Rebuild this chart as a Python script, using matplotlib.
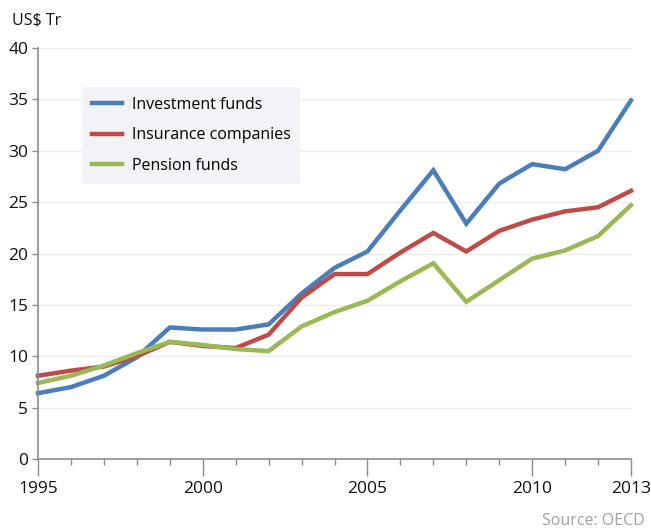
import matplotlib
matplotlib.use("Agg")
import matplotlib.pyplot as plt

plt.rcParams['font.family'] = ['Open Sans', 'DejaVu Sans']

years = list(range(1995, 2014))
investment_funds = [6.4, 7.0, 8.1, 9.9, 12.8, 12.6, 12.6, 13.1, 16.1, 18.6, 20.2, 24.2, 28.1, 22.9, 26.8, 28.7, 28.2, 30.0, 34.9]
insurance_companies = [8.1, 8.6, 9.0, 10.0, 11.4, 11.0, 10.8, 12.1, 15.7, 18.0, 18.0, 20.1, 22.0, 20.2, 22.2, 23.3, 24.1, 24.5, 26.1]
pension_funds = [7.4, 8.1, 9.1, 10.3, 11.4, 11.1, 10.7, 10.5, 12.9, 14.3, 15.4, 17.3, 19.05, 15.3, 17.4, 19.5, 20.3, 21.7, 24.7]
series_names = ["Investment funds", "Insurance companies", "Pension funds"]
colors = ["#4a7ebb", "#be4b48", "#98b954"]
xtick_labels = [1995, 2000, 2005, 2010, 2013]
yticks = [0, 5, 10, 15, 20, 25, 30, 35, 40]

W, H = 651, 531
fig = plt.figure(figsize=(W/100, H/100), dpi=100)
ax = fig.add_axes([38/W, 1-459/H, (631-38)/W, (459-48)/H])

for vals, name, c in zip([investment_funds, insurance_companies, pension_funds], series_names, colors):
    ax.plot(years, vals, color=c, lw=3.2, label=name, solid_joinstyle='miter', clip_on=False)

ax.set_xlim(1995, 2013)
ax.set_ylim(0, 40)
ax.set_yticks(yticks)
ax.set_xticks(xtick_labels)
ax.set_xticklabels([str(y) for y in xtick_labels])
ax.set_xticks([y for y in years if y not in xtick_labels], minor=True)
ax.grid(axis='y', color='#ececec', lw=1)
ax.set_axisbelow(True)
for s in ['top', 'right']:
    ax.spines[s].set_visible(False)
for s in ['left', 'bottom']:
    ax.spines[s].set_color('#8c8c8c')
    ax.spines[s].set_linewidth(1.2)
ax.tick_params(axis='x', which='major', length=12.5, width=1, color='#8c8c8c', labelsize=12.5, pad=3, labelcolor='#111111')
ax.tick_params(axis='x', which='minor', length=4.5, width=1, color='#8c8c8c')
ax.tick_params(axis='y', length=4, width=1, color='#8c8c8c', labelsize=12.5, pad=3, labelcolor='#111111')

leg = ax.legend(loc='upper left', bbox_to_anchor=((82-38)/(631-38), (459-87)/(459-48)),
                frameon=True, fancybox=False, fontsize=11.5, handlelength=1.9,
                borderpad=0.6, labelspacing=0.92, handletextpad=0.6, borderaxespad=0)
leg.get_frame().set_facecolor('#f2f3f6')
leg.get_frame().set_edgecolor('none')
leg.get_frame().set_alpha(1)

fig.text(12/W, 1-20/H, "US$ Tr", fontsize=11.5, va='center', ha='left', color='#111111')
fig.text(645/W, 1-521/H, "Source: OECD", fontsize=11.5, va='center', ha='right', color='#a0a0a0')

fig.savefig("out.png", dpi=100)
